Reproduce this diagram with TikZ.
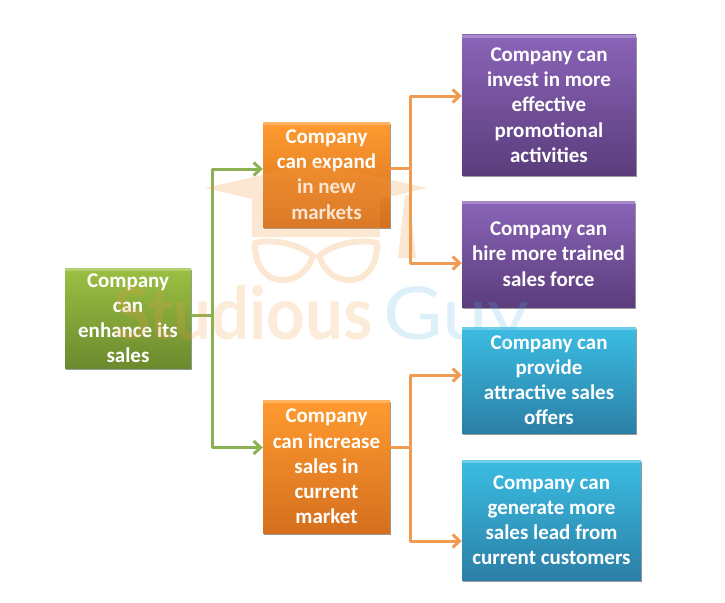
\documentclass[tikz,border=0pt]{standalone}
\usepackage{fontspec}
\setmainfont{Carlito}
\newfontfamily\markfont{Lato}
\usetikzlibrary{shadows,arrows.meta}
\definecolor{greentop}{HTML}{9CC043}
\definecolor{greenlow}{HTML}{6A8A2E}
\definecolor{orangetop}{HTML}{FF9B30}
\definecolor{orangelow}{HTML}{D56F1E}
\definecolor{purpletop}{HTML}{8A64B8}
\definecolor{purplelow}{HTML}{5B3D7C}
\definecolor{bluetop}{HTML}{3BBDE3}
\definecolor{bluelow}{HTML}{2B7FA6}
\definecolor{greenline}{HTML}{8BB153}
\definecolor{orangeline}{HTML}{F09A52}
\definecolor{markorange}{HTML}{F39A45}
\definecolor{markblue}{HTML}{55B4E6}

\begin{document}
\begin{tikzpicture}[x=1pt,y=-1pt]
        \tikzstyle{box}=[align=center,text=white,inner sep=0pt,font=\fontsize{21}{25.2}\selectfont\bfseries,drop shadow={shadow xshift=1pt,shadow yshift=-2pt,opacity=.8},path picture={\fill[white,opacity=.25] (path picture bounding box.north west) rectangle ([yshift=-3pt]path picture bounding box.north east);}]
        \tikzstyle{greenbox}=[box,top color=greentop,bottom color=greenlow]
        \tikzstyle{orangebox}=[box,top color=orangetop,bottom color=orangelow]
        \tikzstyle{purplebox}=[box,top color=purpletop,bottom color=purplelow]
        \tikzstyle{bluebox}=[box,top color=bluetop,bottom color=bluelow]
        \tikzstyle{greenarrow}=[draw=greenline,line width=3pt,line join=round,-{Straight Barb[length=7pt,width=13pt]}]
        \tikzstyle{orangearrow}=[draw=orangeline,line width=3pt,line join=round,-{Straight Barb[length=7pt,width=13pt]}]
        \tikzstyle{watermark}=[inner sep=0pt,opacity=.2,font=\fontsize{73}{73}\selectfont\markfont]
        \useasboundingbox (0,0) rectangle (725,602);
        % boxes
        \node[greenbox,minimum width=126pt,minimum height=100pt] (enhance) at (128,318) {Company\\can\\enhance its\\sales};
        \node[orangebox,minimum width=127pt,minimum height=105pt] (expand) at (326.5,174.5) {Company\\can expand\\in new\\markets};
        \node[orangebox,minimum width=127pt,minimum height=133pt] (increase) at (326.5,466.5) {Company\\can increase\\sales in\\current\\market};
        \node[purplebox,minimum width=174pt,minimum height=140pt] (invest) at (549,105) {Company can\\invest in more\\effective\\promotional\\activities};
        \node[purplebox,minimum width=173pt,minimum height=106pt] (hire) at (548.5,254) {Company can\\hire more trained\\sales force};
        \node[bluebox,minimum width=174pt,minimum height=106pt] (offers) at (549,380) {Company can\\provide\\attractive sales\\offers};
        \node[bluebox,minimum width=179pt,minimum height=120pt] (leads) at (551.5,520) {Company can\\generate more\\sales lead from\\current customers};
        % connectors
        \draw[greenarrow] ([yshift=3pt]enhance.east) -- ++(21,0) |- ([yshift=5.5pt]expand.west);
        \draw[greenarrow] ([yshift=3pt]enhance.east) -- ++(21,0) |- ([yshift=19pt]increase.west);
        \draw[orangearrow] ([yshift=6.5pt]expand.east) -- ++(20,0) |- ([yshift=9pt]invest.west);
        \draw[orangearrow] ([yshift=6.5pt]expand.east) -- ++(20,0) |- ([yshift=-9pt]hire.west);
        \draw[orangearrow] ([yshift=19pt]increase.east) -- ++(20,0) |- ([yshift=5pt]offers.west);
        \draw[orangearrow] ([yshift=19pt]increase.east) -- ++(20,0) |- ([yshift=-21pt]leads.west);
        % watermark
        \fill[markorange,opacity=.24] (205,188) -- (315,163) -- (427,188) -- (380,199) -- (380,237) -- (252,237) -- (252,199) -- cycle;
        \fill[markorange,opacity=.24] (405,195) -- (409,195) -- (416,258) -- (398,258) -- cycle;
        \draw[markorange,opacity=.24,line width=6pt,line join=round] (255,243) .. controls (275,238) and (300,245) .. (313,256) .. controls (308,270) and (298,280) .. (282,280) .. controls (264,280) and (254,262) .. (255,243) -- cycle;
        \draw[markorange,opacity=.24,line width=6pt,line join=round] (377,243) .. controls (357,238) and (332,245) .. (319,256) .. controls (324,270) and (334,280) .. (350,280) .. controls (368,280) and (378,262) .. (377,243) -- cycle;
        \node[watermark,text=markorange,anchor=base west] (studious) at (113,339) {\bfseries\scalebox{.92}[1]{Studious}};
        \node[watermark,text=markblue,anchor=base west] (guy) at (383,339) {\scalebox{1.12}[1]{Guy}};
    \end{tikzpicture}
\end{document}
